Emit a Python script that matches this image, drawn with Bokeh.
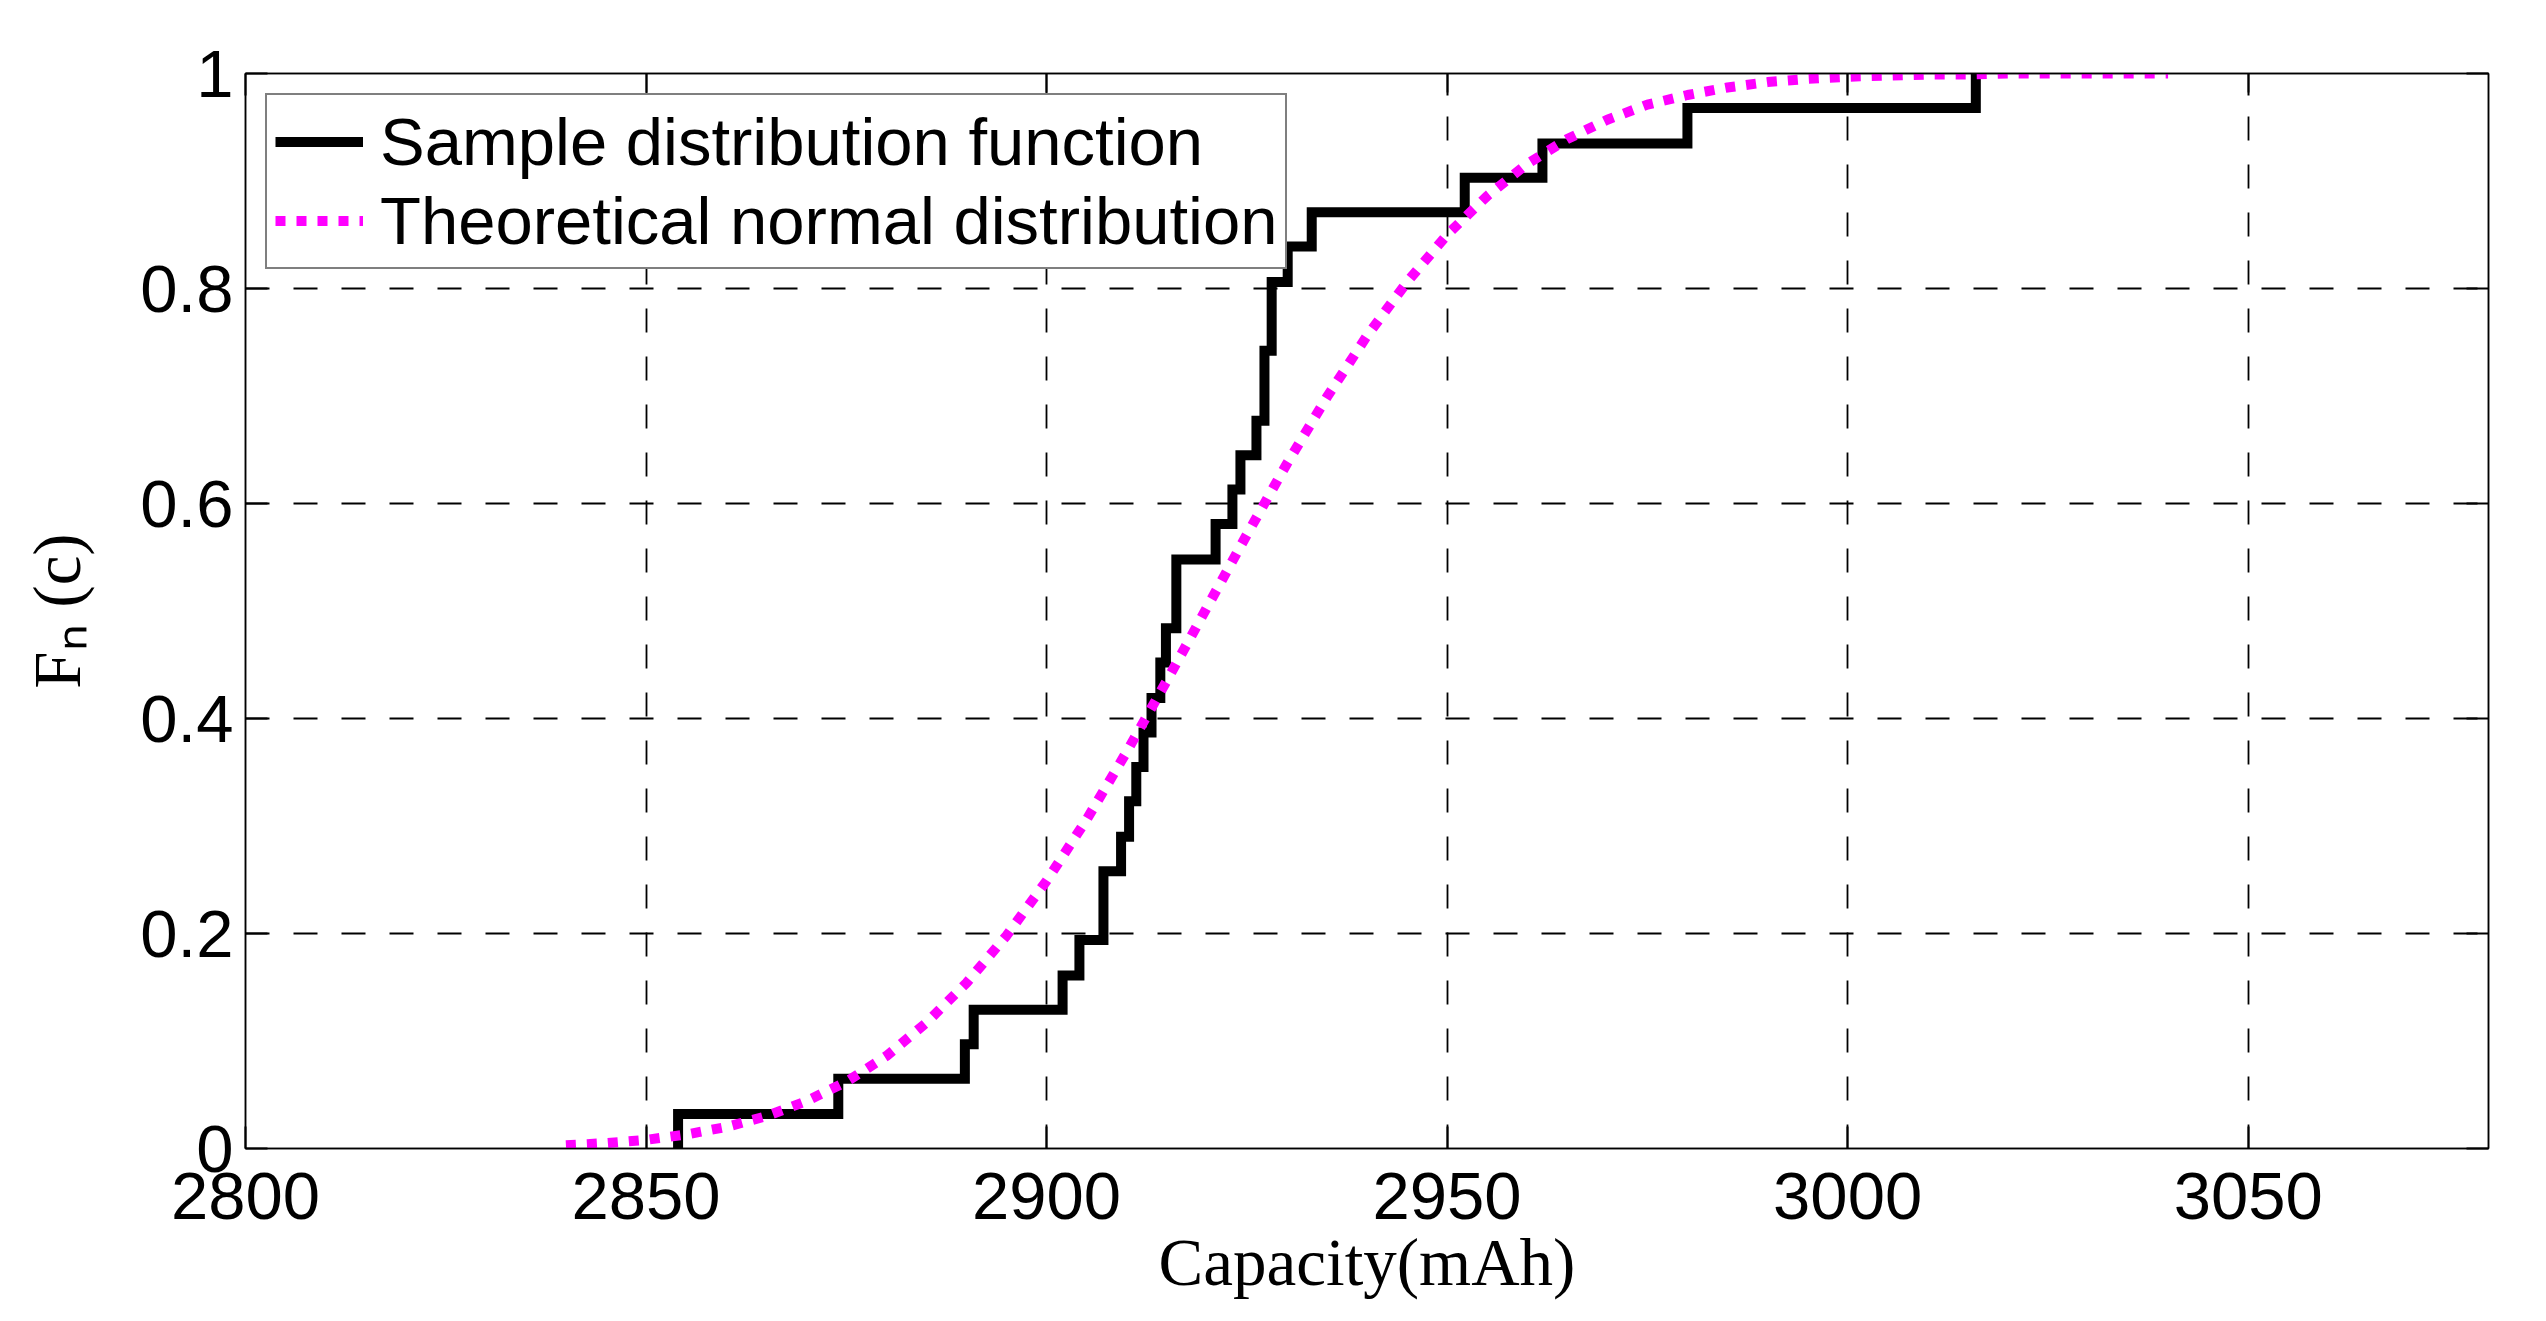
from bokeh.plotting import figure
from bokeh.models import (LinearAxis, FixedTicker, Legend, LegendItem, Range1d)
from bokeh.embed import file_html
from bokeh.resources import INLINE

# ---------------- data ----------------
# empirical distribution: capacity where each step occurs and the level after it
ecdf_x = [2854.0, 2874.0, 2889.8, 2890.9, 2902.0, 2904.1, 2907.1, 2909.3, 2910.3,
          2911.2, 2912.1, 2913.1, 2914.2, 2914.9, 2916.2, 2921.1, 2923.2, 2924.2,
          2926.2, 2927.2, 2928.1, 2930.1, 2933.1, 2952.2, 2961.9, 2980.0, 3016.0]
ecdf_y = [0.032, 0.065, 0.097, 0.129, 0.161, 0.194, 0.258, 0.290, 0.323,
          0.355, 0.387, 0.419, 0.452, 0.484, 0.548, 0.581, 0.613, 0.645,
          0.677, 0.742, 0.806, 0.839, 0.871, 0.903, 0.935, 0.968, 1.000]

# theoretical normal distribution curve
norm_x = [2840, 2845, 2850, 2855, 2860, 2865, 2870, 2875, 2880, 2885, 2890,
          2895, 2900, 2905, 2910, 2915, 2920, 2925, 2930, 2935, 2940, 2945,
          2950, 2955, 2960, 2965, 2970, 2975, 2980, 2985, 2990, 2995, 3000,
          3005, 3010, 3015, 3020, 3025, 3030, 3035, 3040]
norm_y = [0.003, 0.005, 0.008, 0.013, 0.020, 0.030, 0.044, 0.062, 0.086, 0.117, 0.154,
          0.198, 0.249, 0.306, 0.369, 0.435, 0.503, 0.571, 0.637, 0.699, 0.756, 0.806,
          0.850, 0.886, 0.916, 0.939, 0.957, 0.971, 0.980, 0.987, 0.992, 0.995, 0.997,
          0.998, 0.999, 0.999, 1.000, 1.000, 1.000, 1.000, 1.000]

x_ticks = [2800, 2850, 2900, 2950, 3000, 3050]
x_tick_labels = ["2800", "2850", "2900", "2950", "3000", "3050"]
y_ticks = [0, 0.2, 0.4, 0.6, 0.8, 1.0]
y_tick_labels = ["0", "0.2", "0.4", "0.6", "0.8", "1"]

legend_labels = ["Sample distribution function", "Theoretical normal distribution"]
x_title = "Capacity(mAh)"
y_title = "F\u2099 (c)"

# ---------------- figure ----------------
SANS = "Liberation Sans"
SERIF = "Liberation Serif"
FS = "67px"

p = figure(frame_width=2243, frame_height=1075, output_backend="svg",
           toolbar_location=None,
           x_range=Range1d(2800, 3080), y_range=Range1d(0, 1),
           min_border_left=245, min_border_right=40, min_border_top=73,
           min_border_bottom=150)
p.background_fill_color = "white"
p.border_fill_color = "white"
p.outline_line_color = "black"
p.outline_line_width = 1.5

def style_axis(ax, ticks, labels, show_labels=True):
    ax.ticker = FixedTicker(ticks=ticks)
    ax.axis_line_color = "black"
    ax.axis_line_width = 1.5
    ax.major_tick_in = 22
    ax.major_tick_out = 0
    ax.major_tick_line_width = 2
    ax.major_tick_line_color = "black"
    ax.minor_tick_line_color = None
    if show_labels:
        ax.major_label_overrides = {t: l for t, l in zip(ticks, labels)}
        ax.major_label_text_font = SANS
        ax.major_label_text_font_size = FS
        ax.major_label_text_color = "black"
    else:
        ax.major_label_overrides = {t: "" for t in ticks}
        ax.major_label_text_font_size = "1px"
        ax.major_label_standoff = 0

xa = p.xaxis[0]
ya = p.yaxis[0]
style_axis(xa, x_ticks, x_tick_labels)
style_axis(ya, y_ticks, y_tick_labels)
xa.major_label_standoff = 24
ya.major_label_standoff = 12
xa.axis_label = x_title
xa.axis_label_text_font = SERIF
xa.axis_label_text_font_size = FS
xa.axis_label_text_font_style = "normal"
xa.axis_label_text_color = "black"
xa.axis_label_standoff = 3
ya.axis_label = y_title
ya.axis_label_text_font = SERIF
ya.axis_label_text_font_size = FS
ya.axis_label_text_font_style = "normal"
ya.axis_label_text_color = "black"
ya.axis_label_standoff = 43

top_ax = LinearAxis()
style_axis(top_ax, x_ticks, x_tick_labels, show_labels=False)
p.add_layout(top_ax, "above")
right_ax = LinearAxis()
style_axis(right_ax, y_ticks, y_tick_labels, show_labels=False)
p.add_layout(right_ax, "right")

for g, t in ((p.xgrid[0], x_ticks), (p.ygrid[0], y_ticks)):
    g.ticker = FixedTicker(ticks=t)
    g.grid_line_color = "black"
    g.grid_line_width = 1.8
    g.grid_line_dash = "24 24"

# ---------------- glyphs ----------------
step_x = [ecdf_x[0]] + ecdf_x
step_y = [0.0] + ecdf_y
r1 = p.step(step_x, step_y, mode="after", line_color="black", line_width=10,
            line_join="miter")
r2 = p.line(norm_x, norm_y, line_color="#FF00FF", line_width=10, line_dash="10 11")

legend = Legend(items=[LegendItem(label=legend_labels[0], renderers=[r1]),
                       LegendItem(label=legend_labels[1], renderers=[r2])],
                location="top_left", margin=20, padding=8, spacing=2,
                glyph_width=88, glyph_height=75, label_height=75, label_standoff=17,
                label_text_font=SANS, label_text_font_size=FS, label_text_color="black",
                border_line_color="black", border_line_width=2,
                background_fill_color="white", background_fill_alpha=1.0)
p.add_layout(legend)

open("out.html", "w").write(file_html(p, INLINE))
